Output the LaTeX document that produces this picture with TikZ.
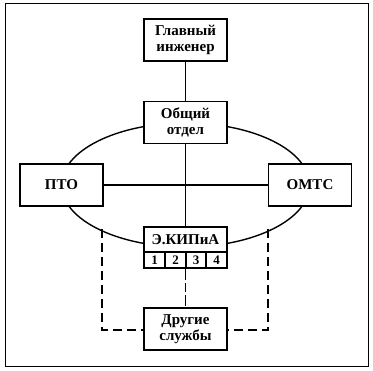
\documentclass[tikz,border=0pt]{standalone}
\usepackage{fontspec}
\setmainfont{Liberation Serif}
\begin{document}
\begin{tikzpicture}[x=1pt,y=-1pt,
  box/.style={draw,line width=1.8pt,fill=white,minimum width=83pt,minimum height=42pt,inner sep=0pt,align=center,font=\bfseries\fontsize{15}{16.5}\selectfont},
  conn/.style={line width=1.4pt},
  dconn/.style={line width=1.4pt,dash pattern=on 9pt off 5pt},
  cdconn/.style={line width=1.4pt,dash pattern=on 11pt off 3pt on 9pt off 3pt},
  num/.style={inner sep=0pt,font=\bfseries\fontsize{13}{14}\selectfont}]
\useasboundingbox (0,0) rectangle (373,371);
\draw[line width=0.9pt] (5,3) rectangle (368,366);
\draw[conn] (185.5,185) ellipse [x radius=124, y radius=62];
% dashed side connectors
\coordinate (lt) at (102,229);
\coordinate (lb) at (102,330);
\coordinate (rt) at (268,229);
\coordinate (rb) at (268,330);
\node[box] (gi) at (185.5,40) {Главный\\инженер};
\node[box] (ob) at (185.5,122.5) {Общий\\отдел};
\node[box] (pto) at (61.5,185) {ПТО};
\node[box] (omts) at (310,185) {ОМТС};
\node[box,minimum height=41pt] (ek) at (185.5,247.5) {};
\node[box] (dr) at (185.5,329) {Другие\\службы};
\draw[conn] (gi) -- (ob);
\draw[conn] (pto) -- (omts);
\draw[conn] (ob) -- (ek);
\draw[cdconn] (ek) -- (dr);
\draw[dconn] (lt) -- (lb) -- (dr.west |- lb);
\draw[dconn] (rt) -- (rb) -- (dr.east |- rb);
% inner structure of ЭКИПиА
\draw[line width=1.6pt] (ek.west |- 0,252) -- (ek.east |- 0,252);
\draw[line width=1.6pt] (165,252) -- (165,268) (186,252) -- (186,268) (206,252) -- (206,268);
\node[inner sep=0pt,font=\bfseries\fontsize{15}{16.5}\selectfont] (ekt) at (185.5,239.5) {Э.КИПиА};
\node[num] (n1) at (154.5,260.5) {1};
\node[num] (n2) at (175.5,260.5) {2};
\node[num] (n3) at (196,260.5) {3};
\node[num] (n4) at (216.5,260.5) {4};
\end{tikzpicture}
\end{document}
